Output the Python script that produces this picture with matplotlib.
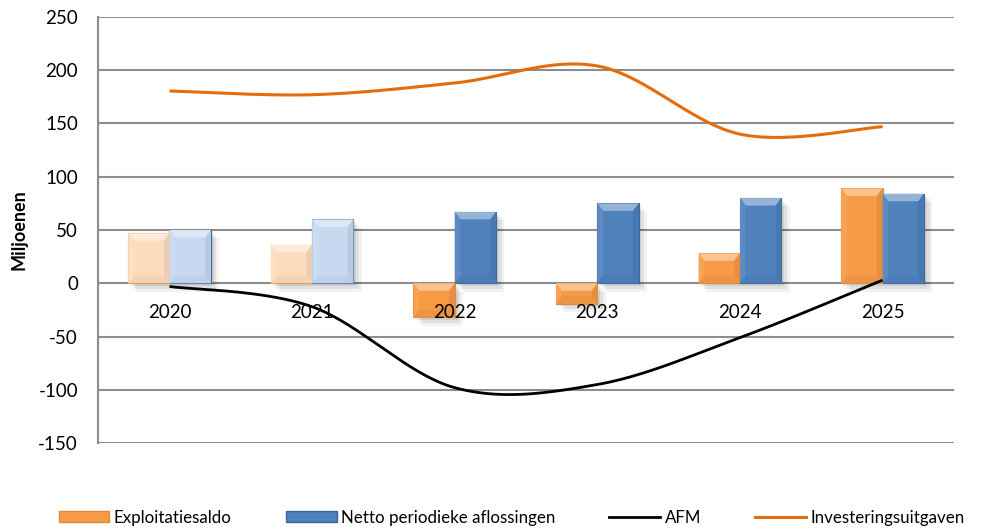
import numpy as np
import matplotlib.pyplot as plt
import matplotlib.patheffects as pe
from matplotlib.patches import Polygon, Patch
from matplotlib.lines import Line2D
from matplotlib.colors import to_rgb

years = ['2020', '2021', '2022', '2023', '2024', '2025']
exploitatiesaldo = [47, 36, -32, -19, 28, 89]
netto_aflossingen = [50, 60, 67, 75, 80, 84]
afm = [-3, -22, -98, -95, -51, 3]
investeringen = [180.5, 177, 188, 204, 140, 147]

plt.rcParams['font.family'] = ['Lato', 'DejaVu Sans']
plt.rcParams['axes.unicode_minus'] = False


def mix(c, other, f):
    c, o = np.array(to_rgb(c)), np.array(to_rgb(other))
    return tuple(c + (o - c) * f)


def smooth(y, n=40):
    # Excel-like smoothed line: Catmull-Rom as cubic Bezier
    y = np.asarray(y, float)
    p = np.column_stack([np.arange(len(y), dtype=float), y])
    p = np.vstack([p[0], p, p[-1]])
    t = np.linspace(0, 1, n)[:, None]
    out = []
    for i in range(1, len(p) - 2):
        p0, p1, p2, p3 = p[i - 1], p[i], p[i + 1], p[i + 2]
        c1 = p1 + (p2 - p0) / 6
        c2 = p2 - (p3 - p1) / 6
        out.append((1 - t)**3 * p1 + 3 * (1 - t)**2 * t * c1 + 3 * (1 - t) * t**2 * c2 + t**3 * p2)
    s = np.vstack(out)
    return s[:, 0], s[:, 1]


def bevel(ax, patch, base, dx=0.04, dy=7.0):
    x0, w = patch.get_x(), patch.get_width()
    y0 = min(patch.get_y(), patch.get_y() + patch.get_height())
    y1 = max(patch.get_y(), patch.get_y() + patch.get_height())
    d = min(dy, (y1 - y0) / 2)
    x1 = x0 + w
    faces = [
        ([(x0, y1), (x1, y1), (x1 - dx, y1 - d), (x0 + dx, y1 - d)], mix(base, 'white', 0.40)),
        ([(x0, y0), (x1, y0), (x1 - dx, y0 + d), (x0 + dx, y0 + d)], mix(base, 'black', 0.04)),
        ([(x0, y0), (x0, y1), (x0 + dx, y1 - d), (x0 + dx, y0 + d)], mix(base, 'white', 0.08)),
        ([(x1, y0), (x1, y1), (x1 - dx, y1 - d), (x1 - dx, y0 + d)], mix(base, 'black', 0.07)),
    ]
    for pts, col in faces:
        ax.add_patch(Polygon(pts, closed=True, facecolor=col, edgecolor='none', zorder=3.1))


fig = plt.figure(figsize=(10.02, 5.30), dpi=100)
ax = fig.add_axes([0.098, 0.164, 0.854, 0.804])

x = np.arange(len(years))
bw = 0.29

or_light, or_dark = '#fddcbc', '#f79a45'
bl_light, bl_dark = '#c6d9f1', '#4f81bd'
or_cols = [or_light if i < 2 else or_dark for i in x]
bl_cols = [bl_light if i < 2 else bl_dark for i in x]

shadow = [pe.SimplePatchShadow(offset=(6, -6), shadow_rgbFace='black', alpha=0.05),
          pe.SimplePatchShadow(offset=(4, -4), shadow_rgbFace='black', alpha=0.07),
          pe.SimplePatchShadow(offset=(2, -2), shadow_rgbFace='black', alpha=0.08),
          pe.Normal()]

b1 = ax.bar(x - bw / 2, exploitatiesaldo, bw, color=or_cols, edgecolor='#e08a3c',
            linewidth=0.8, zorder=3, path_effects=shadow)
b2 = ax.bar(x + bw / 2, netto_aflossingen, bw, color=bl_cols, edgecolor='#3b679c',
            linewidth=0.8, zorder=3, path_effects=shadow)
for bars, cols in ((b1, or_cols), (b2, bl_cols)):
    for p, c in zip(bars, cols):
        bevel(ax, p, c)

sx, sy = smooth(afm)
ax.plot(sx, sy, color='black', lw=2.0, zorder=5, solid_capstyle='butt')
sx, sy = smooth(investeringen)
ax.plot(sx, sy, color='#e46c0a', lw=2.2, zorder=5, solid_capstyle='butt')

ax.set_xlim(-0.5, len(years) - 0.5)
ax.set_ylim(-150, 250)
ax.set_yticks(np.arange(-150, 251, 50))
ax.yaxis.grid(True, color='#8c8c8c', lw=1.5, zorder=0)
ax.set_axisbelow(True)
ax.xaxis.set_zorder(4)  # year labels over the bars, under the lines

for s in ('top', 'right'):
    ax.spines[s].set_visible(False)
ax.spines['left'].set_color('#8c8c8c')
ax.spines['left'].set_linewidth(1.5)
ax.spines['bottom'].set_position(('data', 0))
ax.spines['bottom'].set_visible(False)

ax.set_xticks(x, years)
ax.tick_params(axis='x', length=0, pad=15, labelsize=13.5)
ax.tick_params(axis='y', length=0, pad=14.5, labelsize=13.5)
ax.set_ylabel('Miljoenen', fontsize=13, fontweight='bold', labelpad=8)

handles = [
    Patch(facecolor=or_dark, edgecolor='#e08a3c'),
    Patch(facecolor=bl_dark, edgecolor='#3b679c'),
    Line2D([], [], color='black', lw=2.0),
    Line2D([], [], color='#e46c0a', lw=2.2),
]
labels = ['Exploitatiesaldo', 'Netto periodieke aflossingen', 'AFM', 'Investeringsuitgaven']
fig.legend(handles, labels, loc='center left', bbox_to_anchor=(0.05, 0.023), ncol=4,
           frameon=False, fontsize=12.2, handlelength=3.0, handleheight=0.6,
           handletextpad=0.25, columnspacing=3.2, borderpad=0)

fig.savefig('out.png', dpi=100)
